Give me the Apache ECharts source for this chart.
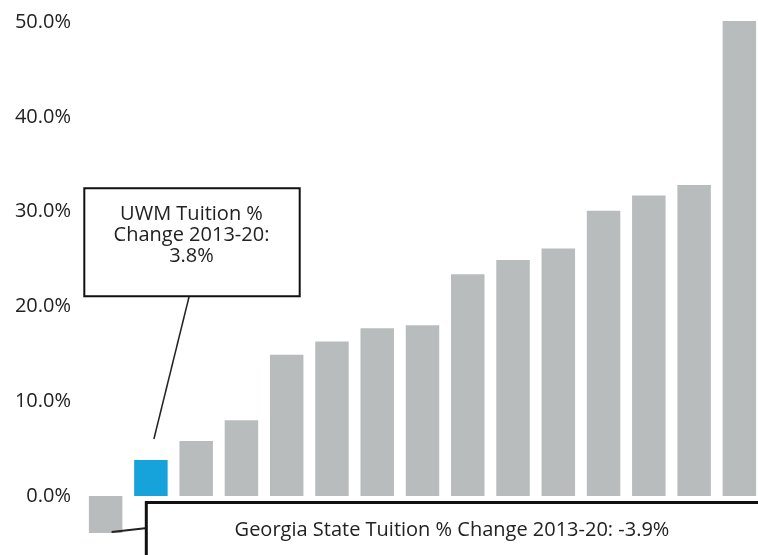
<!DOCTYPE html>
<html>
<head>
<meta charset="utf-8">
<script src="https://cdn.jsdelivr.net/npm/echarts@6/dist/echarts.min.js"></script>
<style>
html,body{margin:0;padding:0;background:#fff;}
#chart{width:758px;height:555px;}
</style>
</head>
<body>
<div id="chart"></div>
<script>
// Data
const categories = ['Georgia State','UWM','School 3','School 4','School 5','School 6','School 7','School 8','School 9','School 10','School 11','School 12','School 13','School 14','School 15'];
const tuitionChange = [-3.9, 3.8, 5.8, 8.0, 14.9, 16.3, 17.7, 18.0, 23.4, 24.9, 26.1, 30.1, 31.7, 32.8, 50.1];
const highlightIndex = 1;
const uwmNote = ['UWM Tuition %', 'Change 2013-20:', '3.8%'];
const georgiaNote = 'Georgia State Tuition % Change 2013-20: -3.9%';

const chart = echarts.init(document.getElementById('chart'));
const option = {
  animation: false,
  backgroundColor: '#fff',
  grid: { left: 83, width: 679, top: -72.8, height: 663.6, containLabel: false, outerBoundsMode: 'none' },
  xAxis: {
    type: 'category',
    data: categories,
    axisLine: { show: false },
    axisTick: { show: false },
    axisLabel: { show: false },
    splitLine: { show: false }
  },
  yAxis: {
    type: 'value',
    min: -10, max: 60, interval: 10,
    axisLine: { show: false },
    axisTick: { show: false },
    splitLine: { show: false },
    axisLabel: {
      margin: 12,
      fontFamily: 'Open Sans',
      fontSize: 20,
      fontWeight: 500,
      color: '#222',
      formatter: v => v.toFixed(1) + '%'
    }
  },
  series: [{
    type: 'bar',
    barCategoryGap: '26%',
    data: tuitionChange.map((v, i) => ({
      value: v,
      itemStyle: { color: i === highlightIndex ? '#16a3dc' : '#b9bcbd' }
    }))
  }]
};
chart.setOption(option);

// Annotations anchored to bars
const uwmTop = chart.convertToPixel({ seriesIndex: 0 }, [highlightIndex, tuitionChange[highlightIndex]]);
const gaBottom = chart.convertToPixel({ seriesIndex: 0 }, [0, tuitionChange[0]]);

chart.setOption({
  graphic: [
    { type: 'line', shape: { x1: 189, y1: 297, x2: uwmTop[0] + 3, y2: uwmTop[1] - 21 },
      style: { stroke: '#222', lineWidth: 1.5 }, z: 10 },
    { type: 'rect', shape: { x: 84.3, y: 188.3, width: 215.4, height: 108 },
      style: { fill: '#fff', stroke: '#111', lineWidth: 2 }, z: 11 },
    { type: 'text', x: 191.5, y: 235, z: 12,
      style: { text: uwmNote.join('\n'), font: '500 20px "Open Sans"', fill: '#222',
        align: 'center', verticalAlign: 'middle', lineHeight: 21 } },
    { type: 'line', shape: { x1: gaBottom[0] + 6, y1: gaBottom[1] - 1, x2: 145, y2: 528.3 },
      style: { stroke: '#222', lineWidth: 2 }, z: 10 },
    { type: 'rect', shape: { x: 146.3, y: 502.5, width: 700, height: 100 },
      style: { fill: '#fff', stroke: '#111', lineWidth: 3 }, z: 11 },
    { type: 'text', x: 452, y: 530.5, z: 12,
      style: { text: georgiaNote, font: '500 20px "Open Sans"', fill: '#222',
        align: 'center', verticalAlign: 'middle' } }
  ]
});
</script>
</body>
</html>
